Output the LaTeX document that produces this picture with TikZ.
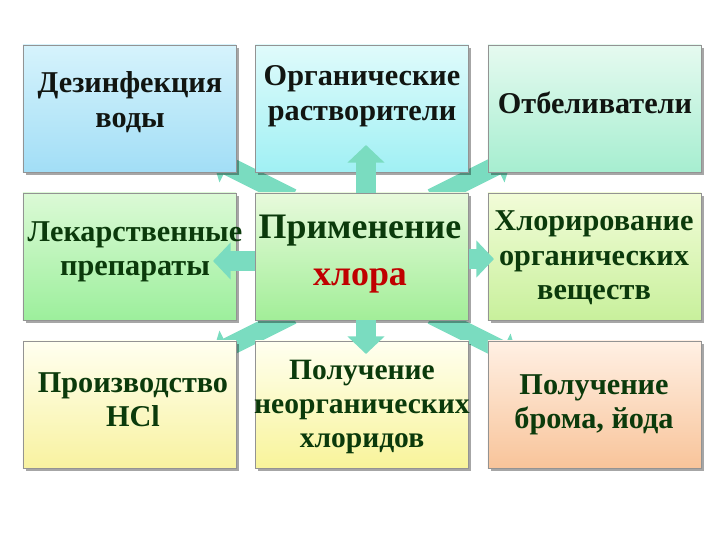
\documentclass[tikz,border=0pt]{standalone}
\usepackage{fontspec}
\setmainfont{Liberation Serif}
\usetikzlibrary{shadings,shadows,arrows.meta}
\definecolor{arrowcol}{HTML}{7ADCC0}
\definecolor{txtgreen}{HTML}{0B3A0B}
\definecolor{txtdark}{HTML}{111511}
\definecolor{txtred}{HTML}{C00000}
\definecolor{dezA}{HTML}{D6F3FC}\definecolor{dezB}{HTML}{A2DEF6}
\definecolor{orgA}{HTML}{E0FBFB}\definecolor{orgB}{HTML}{A0F0F4}
\definecolor{otbA}{HTML}{E6FAF0}\definecolor{otbB}{HTML}{A6EED0}
\definecolor{lekA}{HTML}{DCFAD6}\definecolor{lekB}{HTML}{9CEF9C}
\definecolor{primA}{HTML}{E8FADC}\definecolor{primB}{HTML}{A2EE98}
\definecolor{hlorA}{HTML}{F2FCD8}\definecolor{hlorB}{HTML}{C8F09C}
\definecolor{proizA}{HTML}{FFFFF0}\definecolor{proizB}{HTML}{F8F2A0}
\definecolor{neorgA}{HTML}{FFFFF0}\definecolor{neorgB}{HTML}{F8F49A}
\definecolor{bromA}{HTML}{FFF0E4}\definecolor{bromB}{HTML}{F8C49A}
\tikzset{
	box/.style={draw=gray!85, line width=0.5pt, minimum width=5.325cm, minimum height=3.175cm,
		drop shadow={shadow xshift=0.07cm, shadow yshift=-0.07cm, fill=black, opacity=0.35}},
	lbl/.style={align=center, font=\fontsize{21.5}{24.5}\selectfont\bfseries, text=txtgreen},
	blockarr/.style={draw=arrowcol, line width=0.48cm, -{Triangle[width=0.9cm,length=0.44cm]}},
}
\begin{document}
\begin{tikzpicture}[x=0.025cm, y=-0.025cm]
	\useasboundingbox (0,0) rectangle (720,540);
	% diagonal arrows, under the boxes
	\draw[blockarr] (292,198) -- (212,158);
	\draw[blockarr] (432,198) -- (512,158);
	\draw[blockarr] (292,315) -- (212,355);
	\draw[blockarr] (432,315) -- (518,358);
	% top row
	\node[box, top color=dezA, bottom color=dezB] (dez) at (129.5,108.5) {};
	\node[lbl, text=txtdark] (dezt) at (130,102) {Дезинфекция\\воды};
	\node[box, top color=orgA, bottom color=orgB] (org) at (362,108.5) {};
	\node[lbl, text=txtdark] (orgt) at (362,96) {Органические\\растворители};
	\node[box, top color=otbA, bottom color=otbB] (otb) at (594.5,108.5) {};
	\node[lbl, text=txtdark] (otbt) at (595,103) {Отбеливатели};
	% middle row
	\node[box, top color=lekA, bottom color=lekB] (lek) at (129.5,256.5) {};
	\node[lbl] (lekt) at (135,252) {Лекарственные\\препараты};
	\node[box, top color=primA, bottom color=primB] (prim) at (362,256.5) {};
	\node[lbl, font=\fontsize{25.5}{33}\selectfont\bfseries] (primt) at (360,254) {Применение\\\textcolor{txtred}{хлора}};
	\node[box, top color=hlorA, bottom color=hlorB] (hlor) at (594.5,256.5) {};
	\node[lbl] (hlort) at (594,258) {Хлорирование\\органических\\веществ};
	% bottom row
	\node[box, top color=proizA, bottom color=proizB] (proiz) at (129.5,404.5) {};
	\node[lbl] (proizt) at (133,400) {Производство\\HCl};
	\node[box, top color=neorgA, bottom color=neorgB] (neorg) at (362,404.5) {};
	\node[lbl, font=\fontsize{21}{24.5}\selectfont\bfseries] (neorgt) at (362,407) {Получение\\неорганических\\хлоридов};
	\node[box, top color=bromA, bottom color=bromB] (brom) at (594.5,404.5) {};
	\node[lbl] (bromt) at (594,405) {Получение\\брома, йода};
	% straight arrows, over the boxes
	\draw[blockarr] (prim.north -| 366,0) -- (366,145);
	\draw[blockarr] (prim.south -| 366,0) -- (366,354);
	\draw[blockarr] (prim.west |- 0,261) -- (213,261);
	\draw[blockarr] (prim.east |- 0,259) -- (494,259);
\end{tikzpicture}
\end{document}
